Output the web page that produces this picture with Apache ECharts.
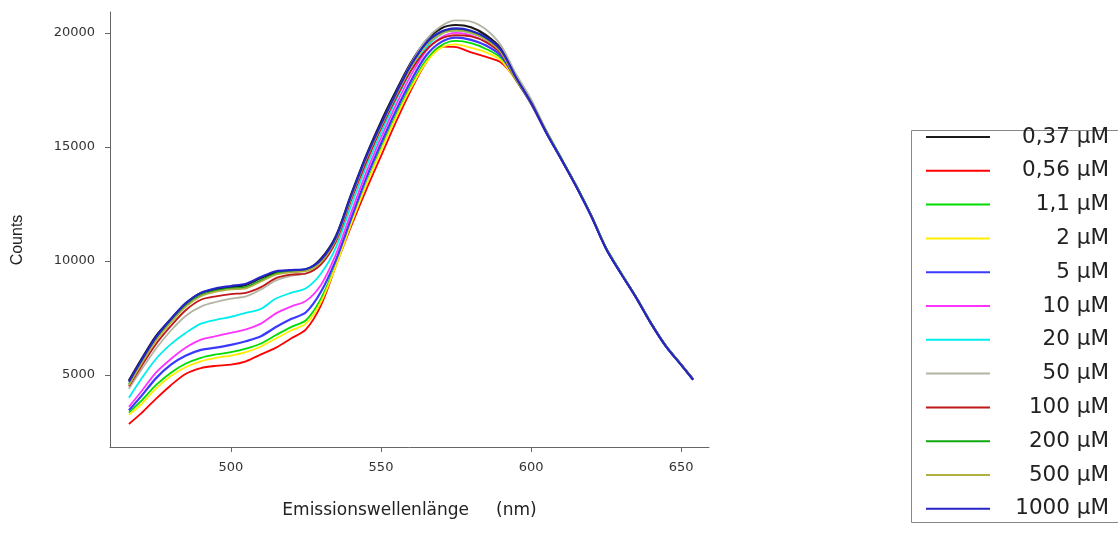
<!DOCTYPE html>
<html>
<head>
<meta charset="utf-8">
<script src="https://cdn.jsdelivr.net/npm/echarts@6/dist/echarts.min.js"></script>
<style>
html,body{margin:0;padding:0;background:#fff;}
#chart{width:1118px;height:536px;}
</style>
</head>
<body>
<div id="chart"></div>
<script>
// Emission wavelength (nm)
const wavelengths = [466,470,475,480,485,490,495,500,505,510,515,520,525,530,535,540,545,550,555,560,565,570,575,580,585,590,595,600,605,610,615,620,625,630,635,640,645,650,654];

const seriesNames = ["0,37 µM","0,56 µM","1,1 µM","2 µM","5 µM","10 µM","20 µM","50 µM","100 µM","200 µM","500 µM","1000 µM"];
const seriesColors = ["#1a1a1a","#ff0000","#00dd00","#ffee00","#3a3aff","#ff33ff","#00eeee","#b4b4a4","#c01818","#10a810","#b0b040","#2424c8"];

const c0_37 = [4750,5650,6700,7450,8150,8600,8750,8850,8950,9250,9500,9580,9620,10100,11100,12900,14600,16100,17450,18700,19650,20200,20350,20250,19900,19300,18100,17000,15700,14500,13300,12000,10550,9450,8400,7260,6250,5450,4800];
const c0_56 = [2850,3300,3950,4550,5050,5300,5400,5450,5600,5900,6200,6600,7000,8050,9800,11500,13100,14600,16100,17500,18700,19400,19380,19150,18950,18700,17950,16880,15640,14480,13300,12000,10550,9460,8410,7270,6260,5460,4810];
const c1_1  = [3350,3850,4550,5100,5500,5750,5900,6000,6150,6380,6750,7100,7400,8350,9850,11650,13350,14950,16400,17700,18800,19450,19650,19550,19300,18900,17950,16930,15680,14500,13310,12010,10560,9460,8400,7260,6250,5450,4800];
const c2    = [3250,3700,4400,4950,5350,5600,5750,5850,6000,6250,6600,6950,7250,8200,9800,11600,13300,14850,16300,17600,18700,19350,19500,19350,19150,18800,17900,16900,15660,14490,13300,12000,10550,9450,8400,7250,6250,5450,4800];
const c5    = [3450,4050,4850,5450,5850,6100,6200,6320,6480,6700,7100,7450,7750,8650,10050,11850,13600,15150,16600,17900,19000,19600,19800,19700,19450,19000,17950,16920,15650,14480,13300,12000,10560,9460,8410,7270,6260,5460,4800];
const c10   = [3600,4250,5100,5700,6200,6550,6700,6850,7000,7250,7700,8000,8250,8950,10300,12100,13850,15400,16850,18150,19200,19800,20000,19900,19600,19100,18000,16950,15660,14480,13290,11990,10550,9450,8400,7250,6240,5450,4800];
const c20   = [4000,4800,5700,6350,6850,7250,7420,7550,7720,7900,8350,8600,8800,9450,10600,12400,14100,15600,17050,18350,19350,19950,20100,20000,19700,19150,18000,16950,15680,14500,13300,12000,10560,9460,8410,7260,6250,5450,4800];
const c50   = [4400,5200,6150,6950,7600,8000,8200,8350,8450,8750,9150,9350,9450,9850,10900,12700,14400,15950,17350,18650,19700,20300,20550,20500,20150,19450,18200,17100,15750,14520,13310,12010,10560,9460,8400,7260,6240,5440,4790];
const c100  = [4500,5350,6350,7150,7850,8300,8450,8550,8600,8850,9250,9400,9450,9850,10850,12650,14300,15800,17150,18350,19250,19750,19900,19850,19600,19100,17950,16950,15650,14470,13270,11990,10540,9450,8400,7250,6250,5460,4810];
const c200  = [4600,5500,6550,7350,8050,8500,8700,8800,8850,9150,9450,9550,9600,10000,11000,12800,14500,15950,17300,18550,19500,20000,20150,20050,19750,19200,18000,16950,15700,14520,13320,12020,10580,9480,8420,7280,6270,5460,4800];
const c500  = [4550,5450,6500,7300,8000,8450,8650,8750,8800,9100,9400,9500,9550,9950,10950,12750,14450,15900,17250,18500,19450,19950,20100,20000,19700,19150,17950,16980,15680,14490,13300,12000,10560,9460,8410,7270,6260,5450,4800];
const c1000 = [4700,5600,6650,7450,8150,8600,8800,8900,9000,9300,9550,9600,9650,10050,11050,12850,14550,16000,17350,18600,19550,20050,20200,20100,19800,19250,18050,16950,15650,14480,13280,11980,10540,9440,8390,7250,6240,5440,4790];

const seriesValues = [c0_37,c0_56,c1_1,c2,c5,c10,c20,c50,c100,c200,c500,c1000];
const xTicks = [500,550,600,650];
const yTicks = [5000,10000,15000,20000];

const font = "'DejaVu Sans', sans-serif";
const thick = {"0,37 µM":2.2,"5 µM":2.2,"1000 µM":2.2};

const chart = echarts.init(document.getElementById('chart'), null, {renderer:'canvas'});
const series = seriesNames.map((name,i)=>({
  name: name,
  type: 'line',
  data: wavelengths.map((w,j)=>[w, seriesValues[i][j]]),
  showSymbol: false,
  symbol: 'none',
  smooth: 0.3,
  color: seriesColors[i],
  itemStyle: {color: seriesColors[i]},
  lineStyle: {color: seriesColors[i], width: thick[name] || 1.8},
  animation: false
}));

chart.setOption({
  backgroundColor: '#ffffff',
  animation: false,
  grid: {left: 110, top: 12, width: 599, height: 435, containLabel: false},
  xAxis: {
    type: 'value', min: 459.7, max: 659.3,
    name: 'Emissionswellenlänge     (nm)', nameLocation: 'middle', nameGap: 55,
    nameTextStyle: {fontFamily: font, fontSize: 17, color: '#222'},
    axisLine: {show: true, onZero: false, lineStyle: {color: '#666', width: 1}},
    axisTick: {show: true, inside: false, length: 5, customValues: xTicks, lineStyle: {color: '#666'}},
    axisLabel: {customValues: xTicks, margin: 14, fontFamily: font, fontSize: 13, color: '#333'},
    splitLine: {show: false}
  },
  yAxis: {
    type: 'value', min: 1840, max: 20920,
    axisLine: {show: true, onZero: false, lineStyle: {color: '#666', width: 1}},
    axisTick: {show: true, inside: false, length: 5, customValues: yTicks, lineStyle: {color: '#666'}},
    axisLabel: {customValues: yTicks, margin: 15, fontFamily: font, fontSize: 13, color: '#333',
      formatter: v => String(v)},
    splitLine: {show: false}
  },
  legend: {
    orient: 'vertical',
    left: 925, top: 126,
    padding: 0,
    itemWidth: 64, itemHeight: 14, itemGap: 11.8,
    itemStyle: {color: 'rgba(0,0,0,0)', borderWidth: 0, opacity: 0},
    lineStyle: {width: 2},
    formatter: name => '{a|' + name + '}',
    textStyle: {
      fontFamily: font, fontSize: 21.5, color: '#222',
      rich: {a: {fontFamily: font, fontSize: 21.5, color: '#222', width: 114, align: 'right', lineHeight: 22}}
    },
    data: seriesNames
  },
  graphic: [{
    type: 'rect', left: 909, top: 128, silent: true,
    shape: {x: 0, y: 0, width: 260, height: 392},
    style: {fill: 'none', stroke: '#888', lineWidth: 1}
  }, {
    type: 'text', x: 18, y: 240, rotation: Math.PI / 2, silent: true,
    style: {text: 'Counts', fontFamily: "'Liberation Sans', Arial, sans-serif", fontSize: 16, fill: '#222',
      align: 'center', verticalAlign: 'middle'}
  }],
  series: series
});
</script>
</body>
</html>
